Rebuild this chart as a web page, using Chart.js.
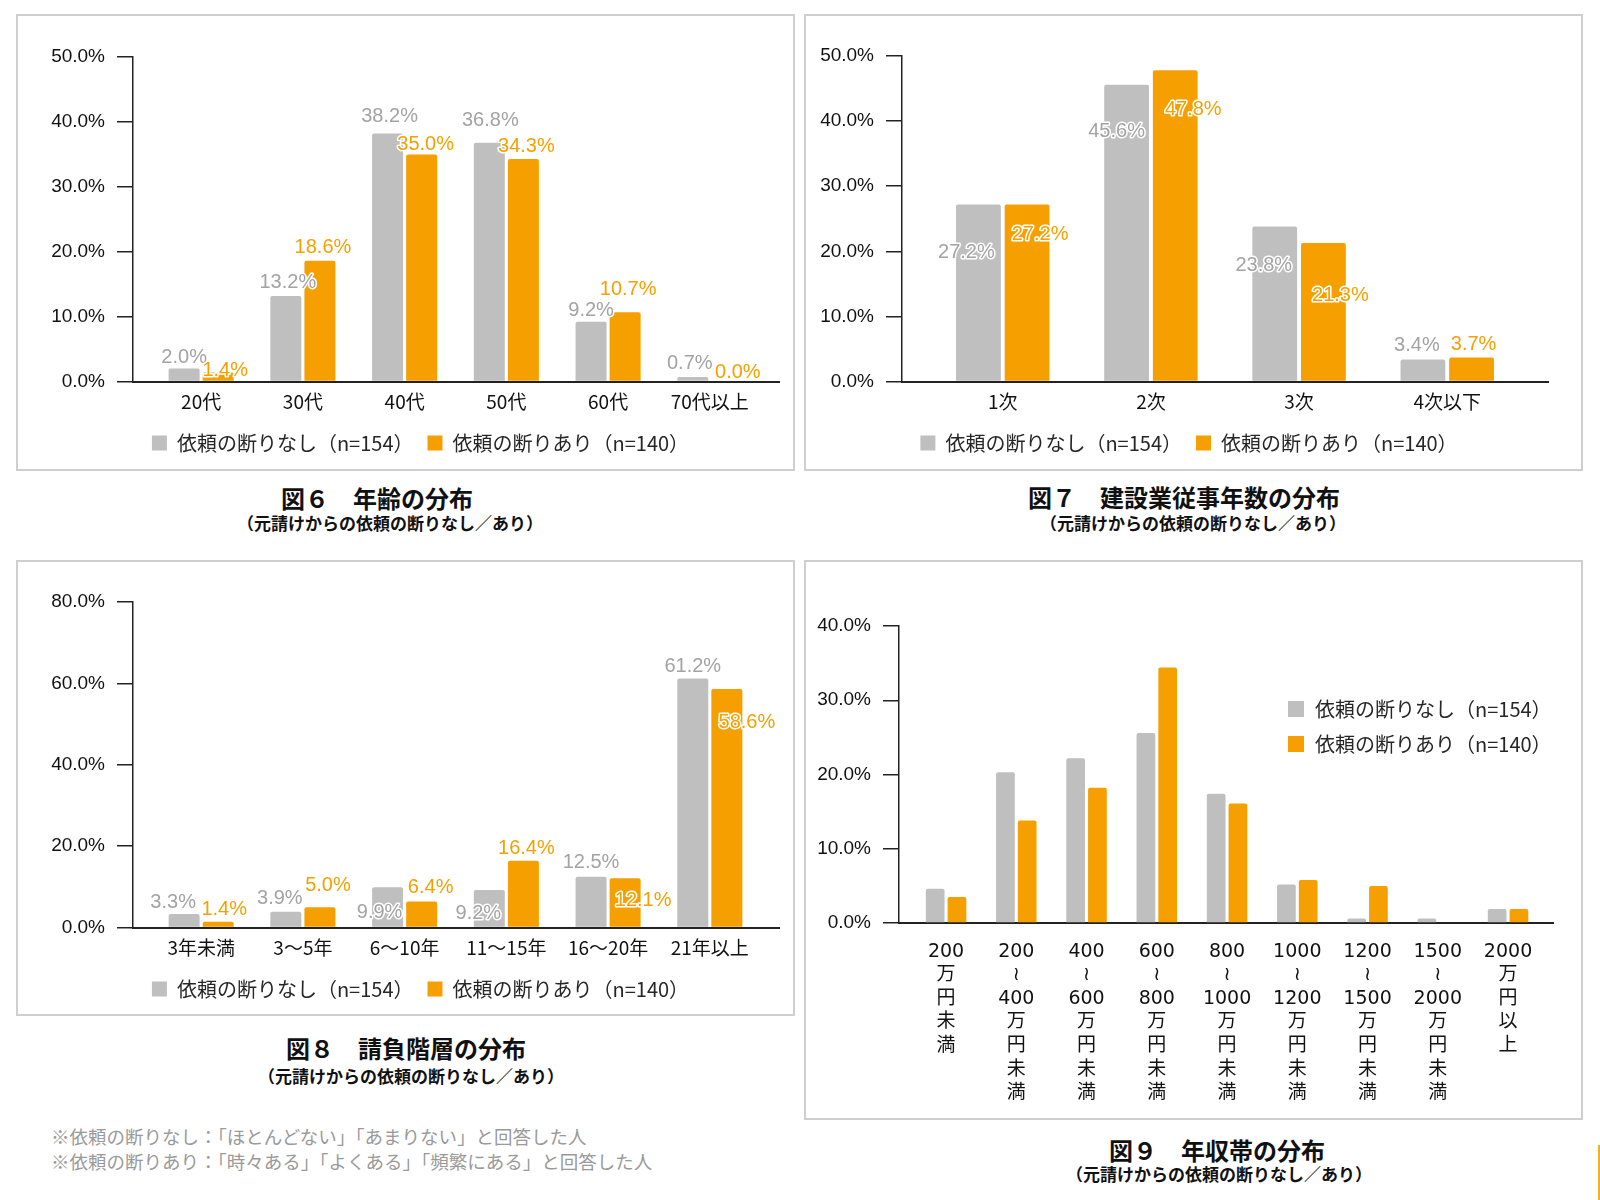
<!DOCTYPE html>
<html lang="ja">
<head>
<meta charset="utf-8">
<title>元請けからの依頼の断りなし／あり</title>
<script src="https://cdn.jsdelivr.net/npm/chart.js@4.4.1/dist/chart.umd.min.js"></script>
<style>
  body { margin: 0; background: #fff; font-family: "Noto Sans CJK JP", sans-serif; }
  .page { position: relative; width: 1600px; height: 1200px; overflow: hidden; }
  .panel { position: absolute; box-sizing: border-box; border: 2px solid #cfcfcf; background: #fff; }
  .panel canvas { display: block; }
  .title { position: absolute; width: 600px; text-align: center; font-weight: bold; white-space: nowrap; line-height: 1; color: #111; }
  .t-main { font-size: 24px; }
  .t-sub { font-size: 17px; }
  .note { position: absolute; left: 51px; font-size: 18.5px; line-height: 1; color: #9a9a9a; white-space: nowrap; }
  .edge { position: absolute; left: 1598px; top: 1145px; width: 2px; height: 55px; background: #f2b21e; }
</style>
</head>
<body>
<div class="page">
  <div class="panel" style="left:16px; top:14px; width:779px; height:457px;"><canvas id="ageChart" width="775" height="453"></canvas></div>
  <div class="panel" style="left:804px; top:14px; width:779px; height:457px;"><canvas id="tierChart" width="775" height="453"></canvas></div>
  <div class="panel" style="left:16px; top:560px; width:779px; height:456px;"><canvas id="yearsChart" width="775" height="452"></canvas></div>
  <div class="panel" style="left:804px; top:560px; width:779px; height:560px;"><canvas id="incomeChart" width="775" height="556"></canvas></div>

  <div class="title t-main" style="left:77px; top:486px;">図６　年齢の分布</div>
  <div class="title t-sub" style="left:90px; top:514px;">（元請けからの依頼の断りなし／あり）</div>
  <div class="title t-main" style="left:884px; top:485px;">図７　建設業従事年数の分布</div>
  <div class="title t-sub" style="left:893px; top:514px;">（元請けからの依頼の断りなし／あり）</div>
  <div class="title t-main" style="left:106px; top:1036px;">図８　請負階層の分布</div>
  <div class="title t-sub" style="left:111px; top:1067px;">（元請けからの依頼の断りなし／あり）</div>
  <div class="title t-main" style="left:917px; top:1138px;">図９　年収帯の分布</div>
  <div class="title t-sub" style="left:919px; top:1165px;">（元請けからの依頼の断りなし／あり）</div>

  <div class="note" style="top:1127px;">※依頼の断りなし：「ほとんどない」「あまりない」と回答した人</div>
  <div class="note" style="top:1152px;">※依頼の断りあり：「時々ある」「よくある」「頻繁にある」と回答した人</div>
  <div class="edge"></div>
</div>

<script>
// series names
const seriesNames = ["依頼の断りなし（n=154）", "依頼の断りあり（n=140）"];

// fig 6 - age
const ageLabels = ["20代", "30代", "40代", "50代", "60代", "70代以上"];
const ageNo = [2.0, 13.2, 38.2, 36.8, 9.2, 0.7];
const ageYes = [1.4, 18.6, 35.0, 34.3, 10.7, 0.0];

// fig 7 - tier
const tierLabels = ["1次", "2次", "3次", "4次以下"];
const tierNo = [27.2, 45.6, 23.8, 3.4];
const tierYes = [27.2, 47.8, 21.3, 3.7];

// fig 8 - years
const yearsLabels = ["3年未満", "3～5年", "6～10年", "11～15年", "16～20年", "21年以上"];
const yearsNo = [3.3, 3.9, 9.9, 9.2, 12.5, 61.2];
const yearsYes = [1.4, 5.0, 6.4, 16.4, 12.1, 58.6];

// fig 9 - income (no value labels in the original)
const incomeLabels = [
  ["200", "万", "円", "未", "満"],
  ["200", "≀", "400", "万", "円", "未", "満"],
  ["400", "≀", "600", "万", "円", "未", "満"],
  ["600", "≀", "800", "万", "円", "未", "満"],
  ["800", "≀", "1000", "万", "円", "未", "満"],
  ["1000", "≀", "1200", "万", "円", "未", "満"],
  ["1200", "≀", "1500", "万", "円", "未", "満"],
  ["1500", "≀", "2000", "万", "円", "未", "満"],
  ["2000", "万", "円", "以", "上"],
];
const incomeNo = [4.6, 20.3, 22.2, 25.6, 17.4, 5.2, 0.6, 0.6, 1.9];
const incomeYes = [3.5, 13.8, 18.2, 34.4, 16.1, 5.8, 5.0, 0.0, 1.9];

// styling
const grayColor = "#bfbfbf";
const orangeColor = "#f5a000";
const labelColors = ["#a3a3a3", "#f5a000"];
const axisColor = "#222";
const cjkFont = '"Noto Sans CJK JP", sans-serif';
const numFont = '"Liberation Sans", Arial, sans-serif';
const wideNumFont = '"DejaVu Sans", "Noto Sans CJK JP", sans-serif';

// value label offsets from the bar top (placed by hand in the original)
const ageLabelPos = [
  [[0, -11], [2, -13], [2, -17], [1, -22], [0, -11], [-3, -14]],
  [[7, -2], [3, -13], [4, -10], [3, -12], [3, -23], [11, -9]],
];
const tierLabelPos = [
  [[-12, 48], [-10, 47], [-11, 39], [-6, -14]],
  [[13, 30], [18, 39], [17, 53], [2, -13]],
];
const yearsLabelPos = [
  [[-11, -12], [-6, -13], [-8, 25], [-11, 23], [0, -14], [0, -12]],
  [[6, -12], [8, -22], [9, -14], [3, -12], [18, 22], [20, 33]],
];

// draws the % labels with a white outline
function makeBarLabels(offsets) {
  return {
    id: "barLabels",
    afterDatasetsDraw(chart) {
      const ctx = chart.ctx;
      ctx.save();
      ctx.font = "20px " + numFont;
      ctx.textAlign = "center";
      ctx.textBaseline = "middle";
      ctx.lineJoin = "round";
      ctx.lineWidth = 3;
      ctx.strokeStyle = "#fff";
      chart.data.datasets.forEach((ds, di) => {
        chart.getDatasetMeta(di).data.forEach((bar, i) => {
          const [dx, dy] = offsets[di][i];
          const text = ds.data[i].y.toFixed(1) + "%";
          ctx.strokeText(text, bar.x + dx, bar.y + dy);
          ctx.fillStyle = labelColors[di];
          ctx.fillText(text, bar.x + dx, bar.y + dy);
        });
      });
      ctx.restore();
    },
  };
}

// nudges the bottom legend sideways (it is not centred in the original)
function shiftLegend(dx) {
  return {
    id: "shiftLegend",
    afterLayout(chart) {
      if (chart.legend) {
        chart.legend.left += dx;
        chart.legend.right += dx;
      }
    },
  };
}

// legend drawn inside the plot area (fig 9)
const innerLegend = {
  id: "innerLegend",
  afterDraw(chart) {
    const { ctx, chartArea } = chart;
    ctx.save();
    ctx.font = "20px " + cjkFont;
    ctx.textBaseline = "middle";
    chart.data.datasets.forEach((ds, i) => {
      const x = chartArea.right - 265;
      const y = chartArea.top + 83 + i * 35;
      ctx.fillStyle = ds.backgroundColor;
      ctx.fillRect(x, y - 8, 16, 16);
      ctx.fillStyle = "#262626";
      ctx.fillText(ds.label, x + 27, y);
    });
    ctx.restore();
  },
};

function makeDatasets(noData, yesData, catPct, barPct) {
  return [noData, yesData].map((values, k) => ({
    label: seriesNames[k],
    data: values.map((v, i) => ({ x: i, y: v })),
    backgroundColor: k === 0 ? grayColor : orangeColor,
    borderWidth: 0,
    borderRadius: 2,
    categoryPercentage: catPct,
    barPercentage: barPct,
  }));
}

function makeOptions(cfg) {
  return {
    responsive: false,
    animation: false,
    layout: { padding: cfg.padding },
    scales: {
      x: {
        type: "linear",
        offset: false,
        min: cfg.xMin,
        max: cfg.xMax,
        grid: { display: false, drawTicks: false },
        border: { color: axisColor, width: 2 },
        ticks: {
          stepSize: 1,
          includeBounds: false,
          autoSkip: false,
          maxRotation: 0,
          padding: cfg.xPad,
          color: "#111",
          font: cfg.xFont || { family: cjkFont, size: 19 },
          callback: (v) => (Number.isInteger(v) && cfg.labels[v]) || "",
        },
        afterFit: (scale) => {
          scale.height = cfg.xHeight;
        },
      },
      y: {
        min: 0,
        max: cfg.yMax,
        grid: { drawOnChartArea: false, drawTicks: true, tickLength: 16, color: axisColor, lineWidth: 1.5 },
        border: { color: axisColor, width: 1.5 },
        ticks: {
          stepSize: cfg.yStep,
          padding: 12,
          color: "#111",
          font: { family: numFont, size: 19 },
          callback: (v) => v.toFixed(1) + "%",
        },
        afterFit: (scale) => {
          scale.width = cfg.yWidth;
        },
      },
    },
    plugins: {
      tooltip: { enabled: false },
      legend: {
        display: cfg.legend,
        position: "bottom",
        labels: {
          boxWidth: 15,
          boxHeight: 15,
          padding: 14,
          color: "#262626",
          font: { family: cjkFont, size: 20 },
        },
      },
    },
  };
}

function ageDraw() {
  new Chart(document.querySelector("#ageChart"), {
    type: "bar",
    data: { datasets: makeDatasets(ageNo, ageYes, 0.67, 0.91) },
    options: makeOptions({
      labels: ageLabels, xMin: -0.67, xMax: 5.68, yMax: 50, yStep: 10,
      padding: { top: 41, right: 14, bottom: 6, left: 0 },
      yWidth: 115, xHeight: 37.4, xPad: 9, legend: true,
    }),
    plugins: [makeBarLabels(ageLabelPos), shiftLegend(22)],
  });
}

function tierDraw() {
  new Chart(document.querySelector("#tierChart"), {
    type: "bar",
    data: { datasets: makeDatasets(tierNo, tierYes, 0.657, 0.92) },
    options: makeOptions({
      labels: tierLabels, xMin: -0.68, xMax: 3.68, yMax: 50, yStep: 10,
      padding: { top: 40, right: 33, bottom: 6, left: 0 },
      yWidth: 96, xHeight: 37.4, xPad: 9, legend: true,
    }),
    plugins: [makeBarLabels(tierLabelPos), shiftLegend(12)],
  });
}

function yearsDraw() {
  new Chart(document.querySelector("#yearsChart"), {
    type: "bar",
    data: { datasets: makeDatasets(yearsNo, yearsYes, 0.67, 0.91) },
    options: makeOptions({
      labels: yearsLabels, xMin: -0.67, xMax: 5.68, yMax: 80, yStep: 20,
      padding: { top: 40, right: 14, bottom: 5, left: 0 },
      yWidth: 115, xHeight: 37.5, xPad: 9, legend: true,
    }),
    plugins: [makeBarLabels(yearsLabelPos), shiftLegend(22)],
  });
}

function incomeDraw() {
  new Chart(document.querySelector("#incomeChart"), {
    type: "bar",
    data: { datasets: makeDatasets(incomeNo, incomeYes, 0.62, 0.86) },
    options: makeOptions({
      labels: incomeLabels, xMin: -0.67, xMax: 8.64, yMax: 40, yStep: 10,
      padding: { top: 64, right: 28, bottom: 0, left: 0 },
      yWidth: 93, xHeight: 195, xPad: 17, legend: false,
      xFont: { family: wideNumFont, size: 19, lineHeight: 1.24 },
    }),
    plugins: [innerLegend],
  });
}

ageDraw();
tierDraw();
yearsDraw();
incomeDraw();
</script>
</body>
</html>
